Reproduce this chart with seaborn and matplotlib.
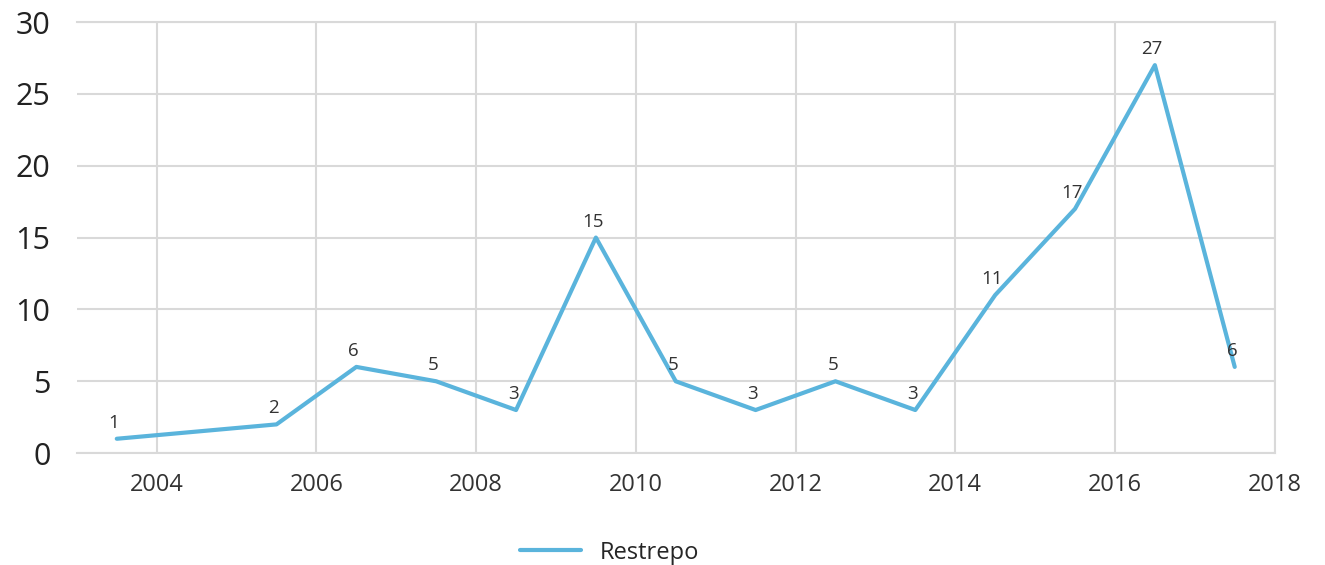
import pandas as pd
import seaborn as sns
import matplotlib.pyplot as plt

years = [2003, 2005, 2006, 2007, 2008, 2009, 2010, 2011, 2012, 2013, 2014, 2015, 2016, 2017]
counts = [1, 2, 6, 5, 3, 15, 5, 3, 5, 3, 11, 17, 27, 6]
series_name = 'Restrepo'

df = pd.DataFrame({'year': years, 'count': counts})
# points sit in the middle of each year
df['pos'] = df['year'] + 0.5
df['serie'] = series_name

sns.set_style('white')
plt.rcParams['font.family'] = ['Open Sans', 'DejaVu Sans']

fig = plt.figure(figsize=(13.25, 5.65), dpi=100)
ax = fig.add_axes([0.058, 0.198, 0.904, 0.763])

line_color = '#5ab4dc'
sns.lineplot(data=df, x='pos', y='count', hue='serie', palette=[line_color],
             linewidth=3, ax=ax, legend=False)

for x, y in zip(df['pos'], df['count']):
    ax.annotate(str(y), (x, y), xytext=(-2, 5), textcoords='offset points',
                ha='center', va='bottom', fontsize=13.5, color='#333333')

ax.set_xlim(2003, 2018)
ax.set_ylim(0, 30)
ax.set_xticks(range(2004, 2019, 2))
ax.set_yticks(range(0, 31, 5))
ax.tick_params(axis='x', labelsize=17, pad=14, length=0, colors='#333333')
ax.tick_params(axis='y', labelsize=22, pad=19, length=0, colors='#222222')
ax.grid(True, color='#d9d9d9', linewidth=1.5)
ax.set_axisbelow(True)
ax.set_xlabel('')
ax.set_ylabel('')
for side in ['top', 'bottom', 'right']:
    ax.spines[side].set_color('#d9d9d9')
    ax.spines[side].set_linewidth(1.5)
ax.spines['left'].set_visible(False)

handle = plt.Line2D([], [], color=line_color, linewidth=3)
fig.legend([handle], [series_name], loc='center', bbox_to_anchor=(0.46, 0.022),
           frameon=False, fontsize=17, handlelength=2.6, handletextpad=0.8)

plt.savefig('out.png', dpi=100)
